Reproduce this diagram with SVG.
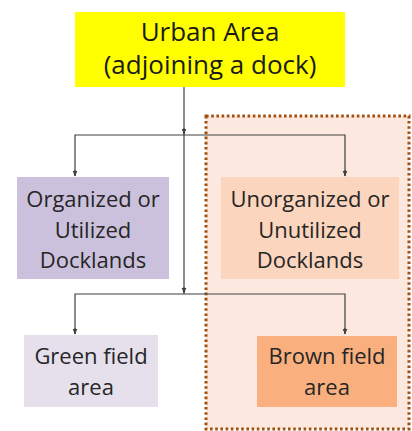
<svg xmlns="http://www.w3.org/2000/svg" width="412" height="431" viewBox="0 0 412 431">
  <defs>
    <marker id="arrow" viewBox="0 0 6 6" refX="5.5" refY="3" markerWidth="6" markerHeight="6" orient="auto" markerUnits="userSpaceOnUse">
      <path d="M0,0.5 L6,3 L0,5.5 Z" fill="#404040"/>
    </marker>
  </defs>
  <style>
    .lbl { font-family: "Open Sans", "Noto Sans", sans-serif; fill: #262626; text-anchor: middle; }
    .title { font-size: 26px; fill: #1a1a1a; }
    .body { font-size: 22px; }
    .conn { fill: none; stroke: #404040; stroke-width: 1.2; }
  </style>
  <rect width="412" height="431" fill="#ffffff"/>

  <!-- dotted region grouping the unused docklands -->
  <g id="region-unused">
    <rect x="206" y="116" width="203" height="313" fill="#fde8e0" stroke="#a0510f" stroke-width="3" stroke-dasharray="2.6 2.6"/>
  </g>

  <g id="connectors">
    <line class="conn" x1="184" y1="87" x2="184" y2="294"/>
    <line class="conn" x1="184" y1="128" x2="184" y2="134" marker-end="url(#arrow)"/>
    <path class="conn" d="M75,176 V135 H345 V176" />
    <line class="conn" x1="75" y1="170" x2="75" y2="176" marker-end="url(#arrow)"/>
    <line class="conn" x1="345" y1="170" x2="345" y2="176" marker-end="url(#arrow)"/>
    <line class="conn" x1="184" y1="287" x2="184" y2="293" marker-end="url(#arrow)"/>
    <path class="conn" d="M75,334 V294 H345 V334" />
    <line class="conn" x1="75" y1="328" x2="75" y2="334" marker-end="url(#arrow)"/>
    <line class="conn" x1="345" y1="328" x2="345" y2="334" marker-end="url(#arrow)"/>
  </g>

  <g id="urban-area">
    <rect x="75" y="12" width="270" height="75" fill="#ffff00"/>
    <text class="lbl title" x="210" y="41">Urban Area</text>
    <text class="lbl title" x="210" y="74">(adjoining a dock)</text>
  </g>

  <g id="organized-docklands">
    <rect x="17" y="177" width="152" height="102" fill="#ccc1dc"/>
    <text class="lbl body" x="93" y="207">Organized or</text>
    <text class="lbl body" x="93" y="238">Utilized</text>
    <text class="lbl body" x="93" y="268">Docklands</text>
  </g>

  <g id="unorganized-docklands">
    <rect x="221" y="177" width="178" height="102" fill="#fbd5bd"/>
    <text class="lbl body" x="310" y="207">Unorganized or</text>
    <text class="lbl body" x="310" y="238">Unutilized</text>
    <text class="lbl body" x="310" y="268">Docklands</text>
  </g>

  <g id="green-field">
    <rect x="24" y="335" width="134" height="72" fill="#e5e0ec"/>
    <text class="lbl body" x="91" y="364">Green field</text>
    <text class="lbl body" x="91" y="395">area</text>
  </g>

  <g id="brown-field">
    <rect x="257" y="336" width="140" height="71" fill="#f9b07e"/>
    <text class="lbl body" x="327" y="364">Brown field</text>
    <text class="lbl body" x="327" y="395">area</text>
  </g>
</svg>
